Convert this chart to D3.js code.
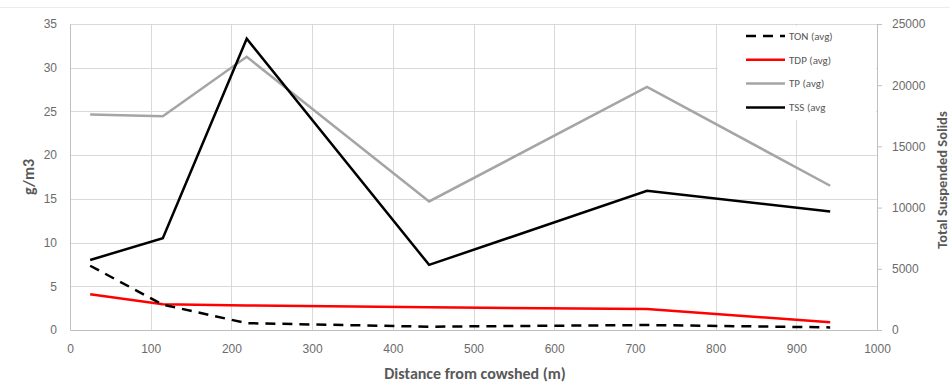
<!DOCTYPE html>
<meta charset="utf-8">
<style>
body { margin: 0; background: #fff; }
svg { font-family: Calibri, Carlito, "Open Sans", "Liberation Sans", Arial, sans-serif; }
.grid line { stroke: #d9d9d9; stroke-width: 1; }
.tick text { fill: #6b6b6b; font-size: 12px; }
.axis-title { fill: #595959; font-weight: bold; }
.legend text { fill: #595959; font-size: 11px; }
</style>
<svg width="950" height="386"></svg>
<script src="https://d3js.org/d3.v7.min.js"></script>
<script>

// distances from the cowshed (m)
var distance = [25, 115, 219, 445, 715, 942];

// left axis, g/m3
var ton = [7.35, 2.9, 0.78, 0.38, 0.57, 0.3];
var tdp = [4.1, 2.95, 2.8, 2.6, 2.4, 0.9];
var tp  = [24.65, 24.45, 31.25, 14.7, 27.8, 16.5];

// right axis, total suspended solids
var tss = [5720, 7500, 23800, 5320, 11370, 9690];

var xTicks = [0, 100, 200, 300, 400, 500, 600, 700, 800, 900, 1000];
var yTicks = [0, 5, 10, 15, 20, 25, 30, 35];
var y2Ticks = [0, 5000, 10000, 15000, 20000, 25000];

var svg = d3.select("svg"),
    margin = {top: 24, right: 73, bottom: 56, left: 70},
    width = +svg.attr("width") - margin.left - margin.right,
    height = +svg.attr("height") - margin.top - margin.bottom;

var x = d3.scaleLinear().domain([0, 1000]).range([0, width]),
    y = d3.scaleLinear().domain([0, 35]).range([height, 0]),
    y2 = d3.scaleLinear().domain([0, 25000]).range([height, 0]);

// faint chart border line on top
svg.append("line")
    .attr("x1", 0).attr("x2", 950)
    .attr("y1", 7.5).attr("y2", 7.5)
    .attr("stroke", "#ececec");

var g = svg.append("g")
    .attr("transform", "translate(" + margin.left + "," + margin.top + ")");

// gridlines
var grid = g.append("g").attr("class", "grid");
grid.selectAll(".h").data(yTicks.slice(1)).enter().append("line")
    .attr("x1", 0).attr("x2", width)
    .attr("y1", function(d) { return Math.round(y(d)) + 0.5; })
    .attr("y2", function(d) { return Math.round(y(d)) + 0.5; });
grid.selectAll(".v").data(xTicks.slice(1, -1)).enter().append("line")
    .attr("y1", 0).attr("y2", height)
    .attr("x1", function(d) { return Math.round(x(d)) + 0.5; })
    .attr("x2", function(d) { return Math.round(x(d)) + 0.5; });

// axes
var fmt = d3.format("d");
var xAxis = g.append("g")
    .attr("transform", "translate(0," + height + ")")
    .call(d3.axisBottom(x).tickValues(xTicks).tickFormat(fmt).tickSize(0).tickPadding(14));
xAxis.select(".domain").attr("stroke", "#bfbfbf");

var yAxis = g.append("g")
    .call(d3.axisLeft(y).tickValues(yTicks).tickFormat(fmt).tickSize(0).tickPadding(13));
yAxis.select(".domain").attr("stroke", "#bfbfbf");

var y2Axis = g.append("g")
    .attr("transform", "translate(" + width + ",0)")
    .call(d3.axisRight(y2).tickValues(y2Ticks).tickFormat(fmt).tickSizeInner(5).tickSizeOuter(0).tickPadding(10));
y2Axis.select(".domain").attr("stroke", "#bfbfbf");
y2Axis.selectAll(".tick line").attr("stroke", "#bfbfbf");

// axis titles
svg.append("text")
    .attr("class", "axis-title")
    .attr("x", 475)
    .attr("y", 379)
    .attr("text-anchor", "middle")
    .style("font-size", "16px")
    .text("Distance from cowshed (m)");

svg.append("text")
    .attr("class", "axis-title")
    .attr("transform", "translate(34,177) rotate(-90)")
    .attr("text-anchor", "middle")
    .style("font-size", "16px")
    .text("g/m3");

svg.append("text")
    .attr("class", "axis-title")
    .attr("transform", "translate(947,180) rotate(-90)")
    .attr("text-anchor", "middle")
    .style("font-size", "14.5px")
    .text("Total Suspended Solids");

// series
var lineL = d3.line()
    .x(function(d, i) { return x(distance[i]); })
    .y(function(d) { return y(d); });
var lineR = d3.line()
    .x(function(d, i) { return x(distance[i]); })
    .y(function(d) { return y2(d); });

g.append("path").datum(tp)
    .attr("fill", "none").attr("stroke", "#a5a5a5").attr("stroke-width", 2.5)
    .attr("d", lineL);
g.append("path").datum(tdp)
    .attr("fill", "none").attr("stroke", "#ff0000").attr("stroke-width", 2.5)
    .attr("d", lineL);
g.append("path").datum(ton)
    .attr("fill", "none").attr("stroke", "#000").attr("stroke-width", 2.5)
    .attr("stroke-dasharray", "10,7")
    .attr("d", lineL);

// legend box sits over the gridlines
var legend = svg.append("g").attr("class", "legend");
legend.append("rect")
    .attr("x", 718).attr("y", 26).attr("width", 158).attr("height", 94)
    .attr("fill", "#fff");

g.append("path").datum(tss)
    .attr("fill", "none").attr("stroke", "#000").attr("stroke-width", 2.5)
    .attr("d", lineR);

var items = [
  {name: "TON (avg)", color: "#000", dash: "10,7"},
  {name: "TDP (avg)", color: "#ff0000", dash: null},
  {name: "TP (avg)", color: "#a5a5a5", dash: null},
  {name: "TSS (avg", color: "#000", dash: null}
];
var row = legend.selectAll(".row").data(items).enter().append("g")
    .attr("transform", function(d, i) { return "translate(746," + (36 + i * 23.8) + ")"; });
row.append("line")
    .attr("x1", 0).attr("x2", 39)
    .attr("stroke", function(d) { return d.color; })
    .attr("stroke-width", 2.5)
    .attr("stroke-dasharray", function(d) { return d.dash; });
row.append("text")
    .attr("x", 43).attr("dy", "0.35em")
    .text(function(d) { return d.name; });

</script>
